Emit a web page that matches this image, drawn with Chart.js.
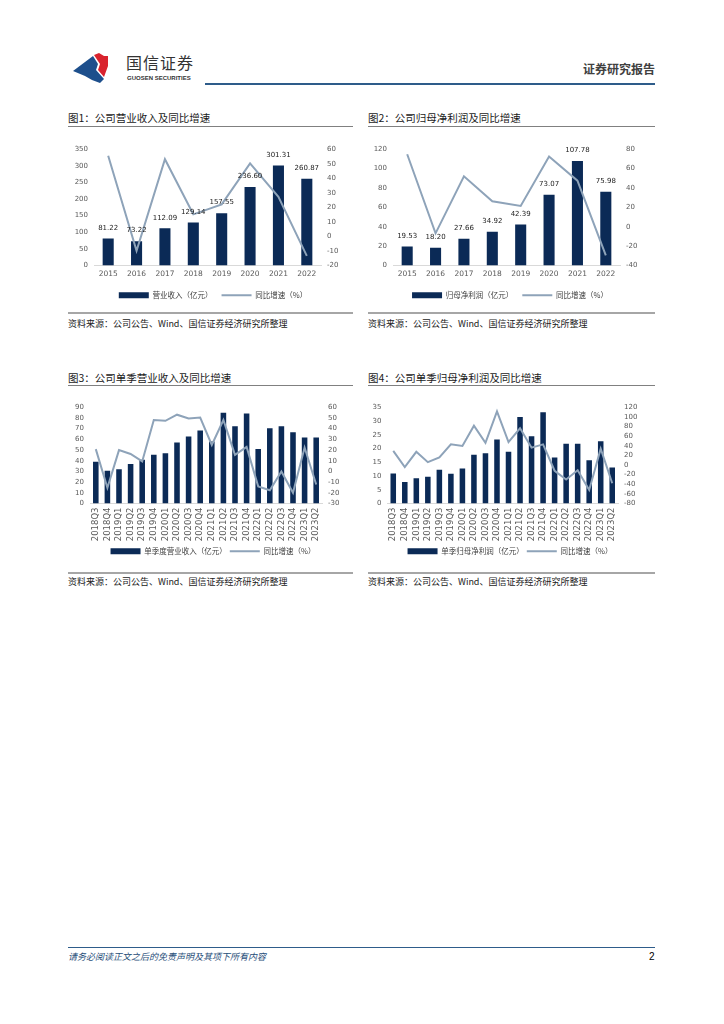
<!DOCTYPE html>
<html>
<head>
<meta charset="utf-8">
<script src="https://cdn.jsdelivr.net/npm/chart.js@4.4.0/dist/chart.umd.min.js"></script>
<style>
  body { margin: 0; background: #fff; font-family: "Noto Sans CJK SC", sans-serif; }
  #page { position: relative; width: 724px; height: 1024px; overflow: hidden; background: #fff; }
  .abs { position: absolute; white-space: nowrap; }
  .title { font-size: 10.5px; line-height: 14px; color: #1a1a1a; }
  .src { font-size: 9px; line-height: 14px; color: #1a1a1a; }
  .thin { position: absolute; height: 1px; background: #808080; }
  .thick { position: absolute; height: 2px; background: #a6a6a6; }
  canvas { position: absolute; }
</style>
</head>
<body>
<div id="page">
  <!-- header -->
  <svg class="abs" style="left:0;top:0" width="724" height="100">
    <path d="M73,71 L93,56 L98,64 L96,70 L104,79 L100,83 L92,80 L85,76 Z" fill="#1d4f8c"/>
    <path d="M94,55 L99,53 L104,56 L108,56 L108,66 L104,77 L98,70 L100,64 Z" fill="#d9232e"/>
  </svg>
  <div class="abs" style="left:126px;top:51px;font-size:16px;line-height:22px;color:#333;letter-spacing:1px;">国信证券</div>
  <div class="abs" style="left:127px;top:74px;font-family:'Liberation Sans',sans-serif;font-size:6px;font-weight:bold;line-height:8px;color:#333;">GUOSEN SECURITIES</div>
  <div class="abs" style="right:69px;top:61px;font-size:12px;line-height:16px;font-weight:bold;color:#404040;">证券研究报告</div>
  <div class="abs" style="left:205px;top:83px;width:450px;height:2px;background:#2e5c8a;"></div>

  <!-- titles -->
  <div class="abs title" style="left:68px;top:111px;">图1：公司营业收入及同比增速</div>
  <div class="thin" style="left:68px;top:126px;width:285px;"></div>
  <div class="abs title" style="left:368px;top:111px;">图2：公司归母净利润及同比增速</div>
  <div class="thin" style="left:368px;top:126px;width:287px;"></div>
  <div class="abs title" style="left:68px;top:371px;">图3：公司单季营业收入及同比增速</div>
  <div class="thin" style="left:68px;top:385px;width:285px;"></div>
  <div class="abs title" style="left:368px;top:371px;">图4：公司单季归母净利润及同比增速</div>
  <div class="thin" style="left:368px;top:385px;width:287px;"></div>

  <!-- sources -->
  <div class="thick" style="left:68px;top:312px;width:285px;"></div>
  <div class="abs src" style="left:68px;top:317px;">资料来源：公司公告、Wind、国信证券经济研究所整理</div>
  <div class="thick" style="left:368px;top:312px;width:287px;"></div>
  <div class="abs src" style="left:368px;top:317px;">资料来源：公司公告、Wind、国信证券经济研究所整理</div>
  <div class="thick" style="left:68px;top:572px;width:285px;"></div>
  <div class="abs src" style="left:68px;top:575px;">资料来源：公司公告、Wind、国信证券经济研究所整理</div>
  <div class="thick" style="left:368px;top:572px;width:287px;"></div>
  <div class="abs src" style="left:368px;top:575px;">资料来源：公司公告、Wind、国信证券经济研究所整理</div>

  <canvas id="c1" width="290" height="170" style="left:68px;top:139px;"></canvas>
  <canvas id="c2" width="296" height="170" style="left:362px;top:139px;"></canvas>
  <canvas id="c3" width="290" height="168" style="left:68px;top:397px;"></canvas>
  <canvas id="c4" width="296" height="168" style="left:362px;top:397px;"></canvas>

  <!-- footer -->
  <div class="abs" style="left:68px;top:947px;width:587px;height:1px;background:#2e5c8a;"></div>
  <div class="abs" style="left:68px;top:950px;font-size:9px;line-height:13px;font-style:italic;color:#1f4e79;">请务必阅读正文之后的免责声明及其项下所有内容</div>
  <div class="abs" style="left:649px;top:950px;font-family:'Liberation Sans',sans-serif;font-size:10px;line-height:13px;color:#000;">2</div>
</div>

<script>
// annual data
const years = ['2015', '2016', '2017', '2018', '2019', '2020', '2021', '2022'];
const revenue = [81.22, 73.22, 112.09, 129.14, 157.55, 236.60, 301.31, 260.87];
const revenueYoy = [55.5, -9.9, 53.1, 15.2, 22.0, 50.2, 27.3, -13.4];
const profit = [19.53, 18.20, 27.66, 34.92, 42.39, 73.07, 107.78, 75.98];
const profitYoy = [74.8, -6.8, 52.0, 26.2, 21.4, 72.4, 47.5, -29.5];

// quarterly data
const quarters = ['2018Q3', '2018Q4', '2019Q1', '2019Q2', '2019Q3', '2019Q4', '2020Q1', '2020Q2',
                  '2020Q3', '2020Q4', '2021Q1', '2021Q2', '2021Q3', '2021Q4', '2022Q1', '2022Q2',
                  '2022Q3', '2022Q4', '2023Q1', '2023Q2'];
const qRevenue = [39, 30.5, 32, 37, 41, 45.5, 47, 57, 62.6, 68.3, 58, 84.9, 72.2, 84.2, 51, 70.4, 72.2, 66.5, 61.7, 61.7];
const qRevenueYoy = [20.8, -15.4, 19.9, 16.3, 9.3, 48, 47.3, 53, 49.4, 50.3, 24.7, 48, 15.4, 22.9, -14, -17.6, 0, -19.9, 22.3, -12.2];
const qProfit = [10.9, 7.8, 9.2, 9.7, 12.3, 10.8, 12.7, 17.7, 18.3, 23.3, 18.8, 31.4, 24.4, 33.2, 16.7, 21.7, 21.7, 15.7, 22.6, 13.1];
const qProfitYoy = [29.4, -4.2, 27.4, 5.8, 15.9, 42.8, 39.4, 81.7, 46.1, 111.3, 47.5, 76.3, 36, 42.8, -12, -30, -11, -52, 34, -38];

const NAVY = '#0b2a56';
const GREYLINE = '#8ea3b9';
const TICK = '#595959';
const LATIN = '"DejaVu Sans", "Noto Sans CJK SC", sans-serif';
const CJK = '"Noto Sans CJK SC", sans-serif';

// value labels above the bars
const barLabels = {
  id: 'barLabels',
  afterDatasetsDraw(chart, args, opts) {
    if (!opts.show) return;
    const ctx = chart.ctx;
    const meta = chart.getDatasetMeta(1);
    const vals = chart.data.datasets[1].data;
    ctx.save();
    ctx.font = '7px ' + LATIN;
    ctx.fillStyle = '#222';
    ctx.textAlign = 'center';
    ctx.textBaseline = 'bottom';
    meta.data.forEach((bar, i) => {
      ctx.fillText(vals[i].toFixed(2), bar.x, bar.y - 7);
    });
    ctx.restore();
  }
};

function makeChart(id, cfg) {
  return new Chart(document.getElementById(id), {
    data: {
      labels: cfg.labels,
      datasets: [{
        type: 'line',
        label: '同比增速（%）',
        data: cfg.yoy,
        yAxisID: 'y1',
        borderColor: GREYLINE,
        backgroundColor: GREYLINE,
        borderWidth: 2,
        pointRadius: 0,
        tension: 0,
        order: 0
      }, {
        type: 'bar',
        label: cfg.barLabel,
        data: cfg.bars,
        yAxisID: 'y',
        backgroundColor: NAVY,
        barPercentage: cfg.barPct,
        categoryPercentage: 1,
        order: 1
      }]
    },
    options: {
      responsive: false,
      animation: false,
      layout: { padding: { top: 8, left: 0, right: 0, bottom: 0 } },
      scales: {
        x: {
          grid: { display: false, drawTicks: false },
          border: { display: true, color: '#d9d9d9' },
          ticks: {
            color: TICK,
            font: { family: LATIN, size: cfg.rotate ? 8.5 : 7.5 },
            padding: 4,
            autoSkip: false,
            maxRotation: cfg.rotate ? 90 : 0,
            minRotation: cfg.rotate ? 90 : 0
          },
          afterFit: s => { s.height = cfg.xH; }
        },
        y: {
          position: 'left',
          min: cfg.yMin, max: cfg.yMax,
          grid: { display: false, drawTicks: false },
          border: { display: false },
          ticks: { stepSize: cfg.yStep, autoSkip: false, color: TICK, font: { family: LATIN, size: 7 }, padding: 6 },
          afterFit: s => { s.width = cfg.leftW; }
        },
        y1: {
          position: 'right',
          min: cfg.rMin, max: cfg.rMax,
          grid: { display: false, drawTicks: false },
          border: { display: false },
          ticks: { stepSize: cfg.rStep, autoSkip: false, color: TICK, font: { family: LATIN, size: 7 }, padding: 6 },
          afterFit: s => { s.width = cfg.rightW; }
        }
      },
      plugins: {
        tooltip: { enabled: false },
        barLabels: { show: cfg.showValues },
        legend: {
          position: 'bottom',
          reverse: true,
          labels: {
            usePointStyle: true,
            pointStyleWidth: 30,
            boxHeight: 6,
            padding: cfg.legendPad,
            color: '#404040',
            font: { family: CJK, size: 7.5 },
            generateLabels: chart => chart.data.datasets.map((ds, i) => ({
              text: ds.label,
              datasetIndex: i,
              fillStyle: i === 1 ? NAVY : GREYLINE,
              strokeStyle: i === 1 ? NAVY : GREYLINE,
              lineWidth: i === 1 ? 0 : 2,
              pointStyle: i === 1 ? 'rect' : 'line',
              hidden: false,
              fontColor: '#404040'
            }))
          }
        }
      }
    },
    plugins: [barLabels]
  });
}

makeChart('c1', {
  labels: years, bars: revenue, yoy: revenueYoy, barLabel: '营业收入（亿元）',
  yMin: 0, yMax: 350, yStep: 50, rMin: -20, rMax: 60, rStep: 10,
  leftW: 26, rightW: 37, xH: 17, legendPad: 9, barPct: 0.39, rotate: false, showValues: true
});
makeChart('c2', {
  labels: years, bars: profit, yoy: profitYoy, barLabel: '归母净利润（亿元）',
  yMin: 0, yMax: 120, yStep: 20, rMin: -40, rMax: 80, rStep: 20,
  leftW: 31, rightW: 38, xH: 17, legendPad: 9, barPct: 0.39, rotate: false, showValues: true
});
makeChart('c3', {
  labels: quarters, bars: qRevenue, yoy: qRevenueYoy, barLabel: '单季度营业收入（亿元）',
  yMin: 0, yMax: 90, yStep: 10, rMin: -30, rMax: 60, rStep: 10,
  leftW: 22, rightW: 36, xH: 41, legendPad: 3, barPct: 0.48, rotate: true, showValues: false
});
makeChart('c4', {
  labels: quarters, bars: qProfit, yoy: qProfitYoy, barLabel: '单季归母净利润（亿元）',
  yMin: 0, yMax: 35, yStep: 5, rMin: -80, rMax: 120, rStep: 20,
  leftW: 25.5, rightW: 40, xH: 41, legendPad: 3, barPct: 0.48, rotate: true, showValues: false
});
</script>
</body>
</html>
